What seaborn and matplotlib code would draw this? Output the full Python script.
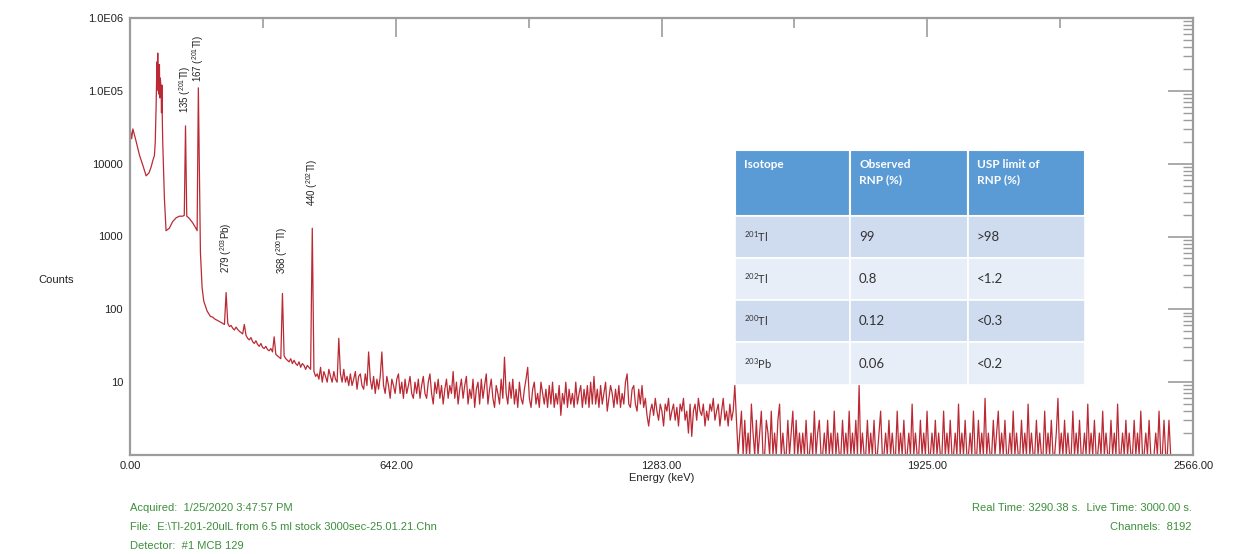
import numpy as np
import pandas as pd
import matplotlib.pyplot as plt
from matplotlib.patches import Rectangle
from matplotlib.ticker import LogLocator, NullFormatter
import seaborn as sns

# === DATA ===
# Low-energy region: Hg X-rays and the 201Tl lines (keV, counts)
low_energy = [0, 4, 7, 15, 23, 31, 39, 46, 51, 55, 59, 61, 63, 65, 66, 67, 68, 69,
              70, 71, 72, 73, 75, 76, 77, 78, 79, 81, 83, 87, 95, 103, 111, 119,
              127, 131, 134, 137, 142, 151, 159, 162, 165, 168, 170, 174, 178,
              186, 194]
low_counts = [32000, 22000, 30000, 20000, 13000, 9500, 6800, 7500, 9000, 11000,
              13000, 20000, 60000, 250000, 120000, 330000, 100000, 200000, 90000,
              230000, 80000, 150000, 110000, 50000, 120000, 40000, 20000, 8000,
              3400, 1200, 1300, 1600, 1800, 1900, 1900, 1950, 33000, 1900, 1800,
              1550, 1300, 1200, 110000, 5000, 600, 200, 130, 95, 80]

# Counts on a 4 keV grid starting at 200 keV
GRID_START = 200
GRID_STEP = 4
near_counts = [78, 74, 72, 70, 68, 66, 64, 62, 170, 64, 58, 60, 55, 52, 57, 53, 50, 48, 46, 62,
               44, 40, 38, 41, 36, 34, 37, 33, 31, 34, 30, 29, 31, 28, 27, 29, 26, 42, 24, 23,
               22, 21, 165, 23, 21, 20, 19, 21, 18, 20, 18, 17, 19, 16, 18, 17, 15, 17, 16, 15,
               1300, 14, 12]
mid_counts = [13, 11, 16, 10, 14, 12, 10, 15, 12, 10, 14, 11, 10, 40, 13, 10, 15, 10, 12, 9,
              13, 9, 11, 14, 8, 12, 13, 9, 8, 13, 9, 26, 11, 8, 12, 7, 11, 8, 12, 26,
              9, 7, 12, 9, 6, 11, 9, 7, 11, 13, 7, 10, 6, 11, 7, 9, 12, 7, 6, 10,
              7, 11, 6, 9, 12, 7, 6, 10, 13, 7, 5, 10, 7, 11, 6, 9, 5, 8, 11, 6,
              9, 7, 14, 6, 10, 5, 8, 11, 6, 9, 12, 5, 8, 6, 11, 4.5, 8, 10, 5, 11,
              6, 9, 13, 5, 8, 11, 6, 4.5, 9, 7, 5, 11, 6, 22, 7, 5, 10, 6, 11, 5,
              8, 4.5, 10, 6, 5, 8, 11, 16, 6, 4.5, 8, 10, 5, 7, 4.5, 10, 7, 5, 8, 4.5,
              9, 5, 10, 4.5, 7, 5, 9, 3.5, 7, 5, 10, 4.5, 8, 5, 7, 4.5, 10, 5, 7, 9,
              4.5, 8, 5, 9, 4.5, 10, 5, 12, 5, 8, 4.5, 9, 5, 7, 10, 4, 6, 9, 7, 4.5,
              8, 5, 9, 4.5, 7, 5, 10, 13, 5, 4.5, 8, 9, 5, 4, 8, 5, 9, 4.5, 6, 3.5]
shoulder_counts = [2.5, 4, 5, 3.5, 6, 4, 3, 5, 4, 2.5, 5, 4, 6, 3, 4, 5, 3, 4.5, 2.5, 5,
                   4, 6, 3, 4, 2, 5, 1.8, 4, 5, 3, 6, 4, 3.5, 5, 2.5, 4, 3, 5, 4, 6,
                   3, 4, 5, 2.5, 4, 6, 3, 4, 2.5, 5, 3, 4, 9]
tail_counts = [3, 1, 2, 4, 1, 3, 1, 2, 1, 5, 2, 1, 3, 1, 2, 4, 1, 1, 3, 2,
               1, 4, 1, 2, 1, 3, 5, 1, 2, 1, 1, 3, 1, 2, 4, 1, 3, 1, 2, 1,
               2, 1, 3, 1, 1, 2, 1, 4, 1, 2, 3, 1, 1, 2, 1, 3, 1, 2, 1, 4,
               1, 2, 1, 1, 3, 1, 2, 1, 4, 1, 2, 1, 3, 1, 9, 1, 2, 1, 1, 3,
               1, 2, 1, 3, 1, 1, 2, 4, 1, 1, 2, 1, 3, 1, 2, 1, 1, 4, 1, 2,
               1, 3, 1, 1, 2, 1, 5, 1, 2, 1, 1, 3, 1, 2, 1, 4, 1, 1, 2, 1,
               3, 1, 2, 1, 1, 4, 1, 2, 1, 3, 1, 1, 2, 1, 5, 1, 2, 1, 3, 1,
               1, 2, 1, 4, 1, 1, 3, 1, 2, 1, 6, 1, 2, 1, 1, 3, 1, 2, 4, 1,
               2, 1, 3, 1, 1, 2, 1, 4, 1, 2, 1, 1, 3, 1, 2, 1, 5, 1, 2, 1,
               1, 3, 1, 2, 1, 1, 4, 1, 2, 1, 3, 1, 1, 2, 6, 1, 2, 1, 3, 1,
               2, 1, 1, 4, 1, 2, 1, 3, 1, 1, 2, 1, 5, 1, 2, 1, 3, 1, 1, 2,
               1, 4, 1, 2, 1, 1, 3, 1, 2, 1, 5, 1, 1, 2, 1, 3, 1, 2, 1, 1,
               3, 1, 2, 1, 4, 1, 1, 2, 1, 3, 1, 1, 1, 2, 1, 4, 1, 1, 3, 1,
               1, 3, 1, 1, 1]

# Peak labels
peak_energy = [134, 165, 232, 368, 440]
peak_labels = ["135 ($^{201}$Tl)", "167 ($^{201}$Tl)", "279 ($^{203}$Pb)",
               "368 ($^{200}$Tl)", "440 ($^{202}$Tl)"]
label_gap = [9, 4, 14, 14, 16]

# Axis ticks
x_ticks = [0, 642, 1283, 1925, 2566]
x_tick_labels = ["0.00", "642.00", "1283.00", "1925.00", "2566.00"]
x_minor = [321, 962.5, 1604, 2245.5]
y_ticks = [10, 100, 1000, 10000, 1e5, 1e6]
y_tick_labels = ["10", "100", "1000", "10000", "1.0E05", "1.0E06"]

# Inset table
table_header = ["Isotope", "Observed\nRNP (%)", "USP limit of\nRNP (%)"]
table_isotope = ["$^{201}$Tl", "$^{202}$Tl", "$^{200}$Tl", "$^{203}$Pb"]
table_observed = ["99", "0.8", "0.12", "0.06"]
table_limit = [">98", "<1.2", "<0.3", "<0.2"]

# Footer info
info_left = ["Acquired:  1/25/2020 3:47:57 PM",
             "File:  E:\\Tl-201-20ulL from 6.5 ml stock 3000sec-25.01.21.Chn",
             "Detector:  #1 MCB 129"]
info_right = ["Real Time: 3290.38 s.  Live Time: 3000.00 s.",
              "Channels:  8192"]

# === BUILD SPECTRUM TABLE ===
grid_counts = np.concatenate([near_counts, mid_counts, shoulder_counts, tail_counts])
grid_energy = GRID_START + GRID_STEP * np.arange(len(grid_counts))
df = pd.DataFrame({
    "Energy": np.concatenate([low_energy, grid_energy]),
    "Counts": np.concatenate([low_counts, grid_counts]).astype(float),
})

# === PLOT ===
sns.set_style("white")
plt.rcParams["font.family"] = ["Liberation Sans", "DejaVu Sans"]
plt.rcParams["mathtext.default"] = "regular"

W, H = 1233, 554
fig = plt.figure(figsize=(W / 100, H / 100), dpi=100)
ax = fig.add_axes([130 / W, 1 - 455 / H, (1193 - 130) / W, (455 - 18) / H])

sns.lineplot(data=df, x="Energy", y="Counts", ax=ax, color="#bb2a34",
             linewidth=0.9, estimator=None, sort=False)

ax.set_yscale("log")
ax.set_xlim(0, 2566)
ax.set_ylim(1, 1e6)

axis_grey = "#9c9c9c"
for sp in ax.spines.values():
    sp.set_color(axis_grey)
    sp.set_linewidth(1.6)

ax.set_xticks(x_ticks, labels=x_tick_labels)
ax.set_xticks(x_minor, minor=True)
ax.set_yticks(y_ticks, labels=y_tick_labels)
ax.yaxis.set_minor_locator(LogLocator(base=10, subs=np.arange(2, 10)))
ax.yaxis.set_minor_formatter(NullFormatter())

ax.tick_params(which="both", direction="in", color=axis_grey, top=True,
               right=True, labelsize=8, labelcolor="#222222")
ax.tick_params(axis="x", which="major", length=14, width=1.2, pad=4)
ax.tick_params(axis="x", which="minor", length=7, width=1.2)
ax.tick_params(axis="y", which="major", length=18, width=1.2, pad=5)
ax.tick_params(axis="y", which="minor", length=7, width=1.0)

ax.set_xlabel("Energy (keV)", fontsize=8, labelpad=2, color="#222222")
ax.set_ylabel("")
fig.text(38 / W, 1 - 280 / H, "Counts", fontsize=8, va="center", color="#222222")

# peak annotations
e_arr = df["Energy"].to_numpy()
c_arr = df["Counts"].to_numpy()
for e, lbl, gap in zip(peak_energy, peak_labels, label_gap):
    tip = c_arr[np.argmin(np.abs(e_arr - e))]
    ax.annotate(lbl, xy=(e, tip), xytext=(0, gap), textcoords="offset points",
                rotation=90, ha="center", va="bottom", fontsize=7, color="#222222")

# inset table
tab = fig.add_axes([735 / W, 1 - 385 / H, 350 / W, 235 / H])
tab.set_xlim(0, 350)
tab.set_ylim(235, 0)
tab.axis("off")
col_x = [0, 115, 233, 350]
row_y = [0, 66, 108, 150, 192, 235]
row_colors = ["#cfdbee", "#e8eef7", "#cfdbee", "#e8eef7"]
for j, head in enumerate(table_header):
    tab.add_patch(Rectangle((col_x[j], row_y[0]), col_x[j + 1] - col_x[j], row_y[1],
                            facecolor="#5b9bd5", edgecolor="white", lw=1.5))
    tab.text(col_x[j] + 9, 9, head, fontsize=8.5, fontweight="bold", color="white",
             va="top", ha="left", family="Lato", linespacing=1.5)
for i, row in enumerate(zip(table_isotope, table_observed, table_limit)):
    y0, y1 = row_y[i + 1], row_y[i + 2]
    for j, cell in enumerate(row):
        tab.add_patch(Rectangle((col_x[j], y0), col_x[j + 1] - col_x[j], y1 - y0,
                                facecolor=row_colors[i], edgecolor="white", lw=1.2))
        tab.text(col_x[j] + 9, (y0 + y1) / 2, cell, fontsize=9.5 if j else 8,
                 color="#333333", va="center", ha="left", family="Lato")

# footer
green = "#3d8f3d"
for k, line in enumerate(info_left):
    fig.text(130 / W, 1 - (508 + 19 * k) / H, line, fontsize=8, color=green, va="center")
for k, line in enumerate(info_right):
    fig.text(1192 / W, 1 - (508 + 19 * k) / H, line, fontsize=8, color=green,
             va="center", ha="right")

fig.savefig("out.png", dpi=100)
